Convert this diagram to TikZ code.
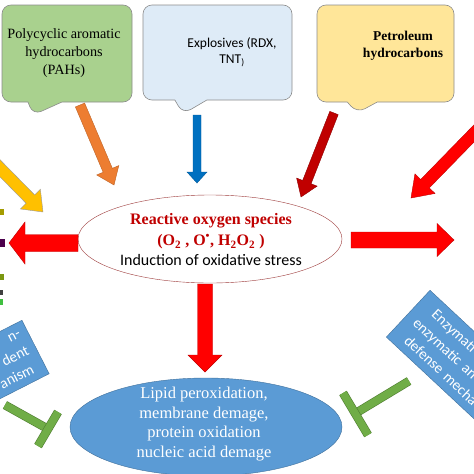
\documentclass[tikz,border=0pt]{standalone}
\usepackage{fontspec}
\setmainfont{Liberation Serif}
\setsansfont{Carlito}
\usetikzlibrary{calc,shapes.geometric,shapes.callouts}

\definecolor{pahgreen}{HTML}{A9D18E}
\definecolor{expblue}{HTML}{DEEBF7}
\definecolor{petyellow}{HTML}{FFE699}
\definecolor{arrorange}{HTML}{ED7D31}
\definecolor{arrblue}{HTML}{0070C0}
\definecolor{darkred}{HTML}{C00000}
\definecolor{arryellow}{HTML}{FFC000}
\definecolor{rosedge}{HTML}{9E3B3B}
\definecolor{dmgblue}{HTML}{5B9BD5}
\definecolor{dmgedge}{HTML}{41719C}
\definecolor{bargreen}{HTML}{70AD47}
\definecolor{baredge}{HTML}{507E32}

% block arrow: style, start, tip, half shaft, half head, head length
\newcommand\blockarrow[6]{%
  \coordinate (ba-h) at ($(#3)!#6!(#2)$);
  \filldraw[#1] ($(#2)!#4!90:(#3)$) -- ($(ba-h)!#4!90:(#3)$) -- ($(ba-h)!#5!90:(#3)$)
    -- (#3) -- ($(ba-h)!#5!-90:(#3)$) -- ($(ba-h)!#4!-90:(#3)$) -- ($(#2)!#4!-90:(#3)$) -- cycle;
}

\begin{document}
\begin{tikzpicture}[x=1pt,y=-1pt,
  callbox/.style={rectangle callout, rounded corners=9pt, draw=black!45, line width=0.6pt, minimum height=97pt},
  boxtext/.style={align=center, font=\rmfamily\fontsize{14.2}{18}\selectfont},
  rotbox/.style={draw=dmgedge, fill=dmgblue, text=white, font=\sffamily\fontsize{15}{19}\selectfont},
  tbar/.style={draw=baredge, line width=0.6pt, double=bargreen, double distance=7.5pt}]
\useasboundingbox[fill=white] (0,0) rectangle (474,474);

% sources
\node[callbox, fill=pahgreen, minimum width=130pt, callout absolute pointer={(33,115)}, callout pointer width=34pt] (pah) at (67,53.5) {};
\node[boxtext] (pah-text) at (64,53) {Polycyclic aromatic\\hydrocarbons\\(PAHs)};
\node[callbox, fill=expblue, minimum width=149pt, minimum height=95pt, callout absolute pointer={(183,114)}, callout pointer width=32pt] (exp) at (217.5,52.5) {};
\node[boxtext, font=\sffamily\fontsize{13.5}{16}\selectfont] (exp-text) at (232,52) {Explosives (RDX,\\TNT\textsubscript{)}};
\node[callbox, fill=petyellow, minimum width=137pt, callout absolute pointer={(357,113)}, callout pointer width=30pt] (pet) at (385.5,53.5) {};
\node[boxtext, font=\rmfamily\bfseries\fontsize{13.5}{17}\selectfont] (pet-text) at (403,46) {Petroleum\\hydrocarbons};

% ROS and damage
\node[ellipse, draw=rosedge, fill=white, minimum width=264pt, minimum height=88pt] (ros) at (210,239) {};
\node[align=center, font=\fontsize{16}{20.5}\selectfont] (ros-text) at (211,240)
  {\textcolor{darkred}{\bfseries Reactive oxygen species}\\
   \textcolor{darkred}{\bfseries (O\textsubscript{2} , O\textsuperscript{\textbullet}, H\textsubscript{2}O\textsubscript{2} )}\\
   \sffamily Induction of oxidative stress};
\node[ellipse, draw=dmgedge, fill=dmgblue, minimum width=272pt, minimum height=98pt] (dmg) at (206,427) {};
\node[align=center, text=white, font=\fontsize{16.5}{19.5}\selectfont] (dmg-text) at (204,424)
  {Lipid peroxidation,\\membrane demage,\\protein oxidation\\nucleic acid demage};

% defence boxes
\node[rotbox, rotate=27, anchor=north east, minimum width=150pt, minimum height=60pt, text width=134pt, inner xsep=8pt, align=right] (ind) at (22,320)
  {n-\hspace*{7pt}\\dent\\anism\hspace*{4pt}};
\node[rotbox, rotate=-43, anchor=north west, minimum width=170pt, minimum height=64pt, text width=150pt, inner xsep=10pt, align=left] (enz) at (430,290)
  {\hspace*{8pt}Enzymati\\enzymatic an\\\hspace*{6pt}defense mecha};

% cut off marks at the left edge
\fill[olive!80!yellow] (0,209) rectangle (4,215);
\fill[violet!60!black] (0,239) rectangle (5,247);
\fill[olive!70!green] (0,274) rectangle (4,280);
\fill[black!75] (0,290) rectangle (3,295);
\fill[gray!50!green] (0,299) rectangle (3,305);

% arrow ends
\coordinate (pah-out) at (80,105);   \coordinate (ros-pah) at (114,185);
\coordinate (exp-out) at (197,115);  \coordinate (ros-exp) at (197,183);
\coordinate (pet-out) at (334,113);  \coordinate (ros-pet) at (301,197);
\coordinate (ne-out) at (492,115);   \coordinate (ros-ne) at (411,198);
\coordinate (nw-out) at (-15,153);   \coordinate (ros-nw) at (43,212);
\coordinate (ros-w) at (78,243);     \coordinate (w-tip) at (9,243);
\coordinate (ros-e) at (351,240);    \coordinate (e-tip) at (454,240);
\coordinate (ros-s) at (205,284);    \coordinate (dmg-n) at (205,372);

\blockarrow{fill=arrorange, draw=arrorange!80!black}{pah-out}{ros-pah}{5pt}{12pt}{16pt}
\blockarrow{fill=arrblue, draw=arrblue!80!black}{exp-out}{ros-exp}{4pt}{10pt}{11pt}
\blockarrow{fill=darkred, draw=darkred!75!black}{pet-out}{ros-pet}{4.5pt}{11pt}{16pt}
\blockarrow{fill=red, draw=darkred}{ne-out}{ros-ne}{6pt}{14pt}{20pt}
\blockarrow{fill=arryellow, draw=black!40}{nw-out}{ros-nw}{6pt}{14pt}{18pt}
\blockarrow{fill=red, draw=darkred}{ros-w}{w-tip}{8.5pt}{21pt}{16pt}
\blockarrow{fill=red, draw=darkred}{ros-e}{e-tip}{8pt}{16.5pt}{17pt}
\blockarrow{fill=red, draw=darkred}{ros-s}{dmg-n}{7.5pt}{17pt}{17pt}

% inhibition bars
\coordinate (ind-out) at (5,405);    \coordinate (ind-t) at (48,429);
\coordinate (ind-t1) at (58,412);    \coordinate (ind-t2) at (38,446);
\coordinate (enz-out) at (409,381);  \coordinate (enz-t) at (356,413);
\coordinate (enz-t1) at (343,393);   \coordinate (enz-t2) at (368,435);
\draw[tbar] (ind-out) -- (ind-t);
\draw[tbar] (ind-t1) -- (ind-t2);
\draw[tbar] (enz-out) -- (enz-t);
\draw[tbar] (enz-t1) -- (enz-t2);
\end{tikzpicture}
\end{document}
